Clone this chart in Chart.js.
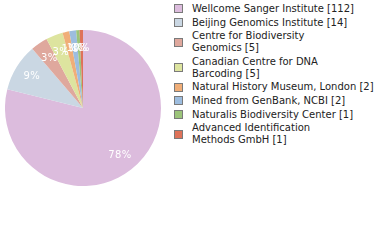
<!DOCTYPE html>
<html>
<head>
<meta charset="utf-8">
<script src="https://cdn.jsdelivr.net/npm/chart.js@4/dist/chart.umd.min.js"></script>
<style>
  body { margin: 0; width: 380px; height: 240px; background: #fff; position: relative; overflow: hidden; }
  #pie { position: absolute; left: 5px; top: 30px; }
  #legend { position: absolute; left: 174px; top: 3px; width: 206px;
    font-family: "DejaVu Sans", sans-serif; font-size: 10px; color: #222; }
  .item { display: flex; align-items: center; margin-bottom: 2px; }
  .box { width: 7px; height: 7px; border: 1px solid #7a7a7a; flex: none; margin-right: 9px; }
  .txt { line-height: 11.7px; white-space: nowrap; }
</style>
</head>
<body>
<canvas id="pie" width="156" height="156"></canvas>
<div id="legend"></div>
<script>
var labels = [["Wellcome Sanger Institute"], ["Beijing Genomics Institute"], ["Centre for Biodiversity", "Genomics"],
  ["Canadian Centre for DNA", "Barcoding"], ["Natural History Museum, London"], ["Mined from GenBank, NCBI"],
  ["Naturalis Biodiversity Center"], ["Advanced Identification", "Methods GmbH"]];
var counts = [112, 14, 5, 5, 2, 2, 1, 1];
var colors = ["#dcbcdd", "#cad7e3", "#dfa89d", "#dde49f", "#f0ae78", "#9dbddf", "#9cc47a", "#de7259"];

var total = counts.reduce(function(a, b) { return a + b; }, 0);

var pctLabels = {
  id: 'pctLabels',
  afterDatasetsDraw: function(chart) {
    var ctx = chart.ctx;
    var meta = chart.getDatasetMeta(0);
    ctx.save();
    ctx.font = '10px "DejaVu Sans", sans-serif';
    ctx.letterSpacing = '0.4px';
    ctx.fillStyle = '#fff';
    ctx.textAlign = 'center';
    ctx.textBaseline = 'middle';
    meta.data.forEach(function(arc, i) {
      var a = (arc.startAngle + arc.endAngle) / 2;
      var r = arc.outerRadius * 0.77;
      var txt = Math.floor(counts[i] / total * 100) + '%';
      ctx.fillText(txt, arc.x + Math.cos(a) * r, arc.y + Math.sin(a) * r);
    });
    ctx.restore();
  }
};

var chart = new Chart(document.getElementById('pie'), {
  type: 'pie',
  data: {
    labels: labels.map(function(l) { return l.join(' '); }),
    datasets: [{ data: counts, backgroundColor: colors, borderWidth: 0 }]
  },
  options: {
    responsive: false,
    animation: false,
    devicePixelRatio: 1,
    plugins: { legend: { display: false }, tooltip: { enabled: false } }
  },
  plugins: [pctLabels]
});

var lg = document.getElementById('legend');
labels.forEach(function(l, i) {
  var it = document.createElement('div');
  it.className = 'item';
  var b = document.createElement('div');
  b.className = 'box';
  b.style.background = colors[i];
  var t = document.createElement('div');
  t.className = 'txt';
  l.forEach(function(line, j) {
    var d = document.createElement('div');
    d.textContent = j === l.length - 1 ? line + ' [' + counts[i] + ']' : line;
    t.appendChild(d);
  });
  it.appendChild(b);
  it.appendChild(t);
  lg.appendChild(it);
});
</script>
</body>
</html>
